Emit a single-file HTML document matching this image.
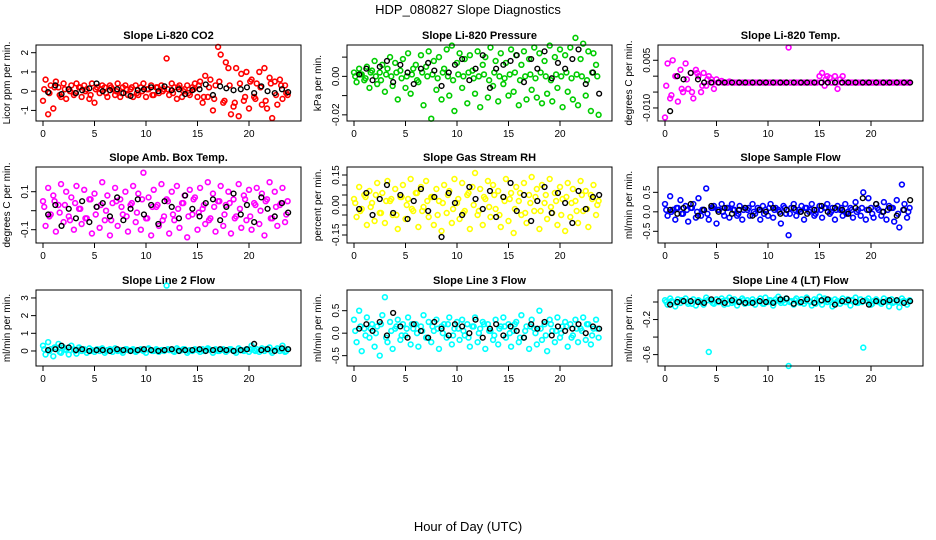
<!DOCTYPE html>
<html><head><meta charset="utf-8"><style>
html,body{margin:0;padding:0;background:#fff;}
svg{display:block;font-family:"Liberation Sans",sans-serif;}
</style></head><body>
<svg id="chart" width="936" height="540" viewBox="0 0 936 540">
<text x="468" y="14" text-anchor="middle" font-size="13">HDP_080827  Slope Diagnostics</text>
<text x="468" y="531" text-anchor="middle" font-size="13">Hour of Day (UTC)</text>
</svg>
<script>
const hoursColor = [0,0.25,0.5,0.75,1,1.25,1.5,1.75,2,2.25,2.5,2.75,3,3.25,3.5,3.75,4,4.25,4.5,4.75,5,5.25,5.5,5.75,6,6.25,6.5,6.75,7,7.25,7.5,7.75,8,8.25,8.5,8.75,9,9.25,9.5,9.75,10,10.25,10.5,10.75,11,11.25,11.5,11.75,12,12.25,12.5,12.75,13,13.25,13.5,13.75,14,14.25,14.5,14.75,15,15.25,15.5,15.75,16,16.25,16.5,16.75,17,17.25,17.5,17.75,18,18.25,18.5,18.75,19,19.25,19.5,19.75,20,20.25,20.5,20.75,21,21.25,21.5,21.75,22,22.25,22.5,22.75,23,23.25,23.5,23.75];
const hoursCore = [0.12,0.62,1.12,1.62,2.12,2.62,3.12,3.62,4.12,4.62,5.12,5.62,6.12,6.62,7.12,7.62,8.12,8.62,9.12,9.62,10.12,10.62,11.12,11.62,12.12,12.62,13.12,13.62,14.12,14.62,15.12,15.62,16.12,16.62,17.12,17.62,18.12,18.62,19.12,19.62,20.12,20.62,21.12,21.62,22.12,22.62,23.12,23.62];
const hoursBlack = [0.5,1.2,1.8,2.5,3.2,3.8,4.5,5.2,5.8,6.5,7.2,7.8,8.5,9.2,9.8,10.5,11.2,11.8,12.5,13.2,13.8,14.5,15.2,15.8,16.5,17.2,17.8,18.5,19.2,19.8,20.5,21.2,21.8,22.5,23.2,23.8];
const panelTitles = ["Slope Li-820 CO2","Slope Li-820 Pressure","Slope Li-820 Temp.","Slope Amb. Box Temp.","Slope Gas Stream RH","Slope Sample Flow","Slope Line 2 Flow","Slope Line 3 Flow","Slope Line 4 (LT) Flow"];
const yTitles = ["Licor ppm per min.","kPa per min.","degrees C per min.","degrees C per min.","percent per min.","ml/min per min.","ml/min per min.","ml/min per min.","ml/min per min."];
const yRanges = [[-1.55,2.4],[-0.0232,0.0163],[-0.0141,0.0098],[-0.17,0.23],[-0.19,0.19],[-0.8,1.15],[-0.85,3.45],[-0.73,0.96],[-0.73,0.137]];
const yTicks = [[-1,0,1,2],[-0.02,-0.01,0,0.01],[-0.01,-0.005,0,0.005],[-0.1,0,0.1],[-0.15,-0.1,-0.05,0,0.05,0.1,0.15],[-0.5,0,0.5],[0,1,2,3],[-0.5,0,0.5],[-0.6,-0.4,-0.2,0]];
const yTickLabels = [["-1","0","1","2"],["-0.02","","0.00",""],["-0.010","","","0.005"],["-0.1","","0.1"],["-0.15","","","0.00","","","0.15"],["-0.5","0.0","0.5"],["0","1","2","3"],["-0.5","0.0","0.5"],["-0.6","","-0.2",""]];
const xTicks = [0,5,10,15,20];
const seriesColors = ["#ff0000","#00cd00","#ff00ff","#ff00ff","#ffff00","#0000ff","#00ffff","#00ffff","#00ffff"];
const colorCO2 = [-0.5,0.6,-1.2,0.3,-0.9,0.5,0.2,-0.3,0.4,-0.4,0.1,0.3,-0.2,0.4,0.2,-0.3,0.3,0.1,-0.4,0.4,-0.6,0.2,-0.1,0.3,0.2,-0.3,0.3,0.1,-0.2,0.4,-0.3,0.2,0.3,-0.2,0.1,-0.3,0.3,-0.2,0.2,0.4,-0.3,0.1,0.3,-0.2,0.2,-0.1,0.3,0.1,1.7,-0.2,0.4,0.2,-0.4,0.3,-0.3,0.1,0.3,-0.2,0.2,0.4,-0.3,0.5,-0.6,0.8,-0.3,0.6,-1.0,0.3,2.3,1.9,-0.6,1.5,1.2,-1.2,-0.8,1.2,-1.3,0.9,-0.5,1.0,-0.9,0.6,-0.3,0.4,1.0,-0.7,1.2,-0.9,0.7,-1.4,0.5,-0.7,0.6,-0.4,0.3,-0.2];
const coreCO2 = [0.1,-0.1,0.2,-0.2,0.1,0,-0.1,0.2,0,-0.2,0.1,0.1,-0.1,0.2,0,-0.1,0.1,0.2,-0.1,0,0.1,-0.2,0.2,0,0.1,-0.1,0.2,0,-0.1,0.1,0.3,-0.3,0.2,-0.4,0.5,-0.5,0.3,-0.6,0.4,-0.3,0.5,-0.4,0.2,-0.5,0.4,-0.2,0.3,-0.1];
const blackCO2 = [-0.05,0.3,-0.15,0.1,-0.1,0.05,0.15,0.4,0,0.05,0.1,-0.1,-0.25,0.05,0.1,0.2,0,0.25,0.05,0.1,-0.15,0.05,0.1,0.35,-0.2,0.25,0.15,0.05,0.1,0.2,-0.1,0.25,0,-0.1,0.1,-0.05];
const colorPress = [0.002,-0.003,0.004,0.001,-0.002,0.005,-0.006,0.003,0.008,-0.004,0.002,0.006,-0.008,0.004,0.01,-0.005,0.007,-0.012,0.003,0.009,-0.006,0.012,-0.009,0.004,0.006,-0.003,0.011,-0.015,0.005,0.013,-0.022,0.008,-0.007,0.01,-0.012,0.004,0.014,-0.01,0.016,-0.018,0.007,0.012,-0.006,0.009,-0.014,0.011,0.003,-0.009,0.013,-0.016,0.006,0.01,-0.011,0.015,-0.005,0.008,-0.013,0.012,-0.004,0.007,-0.01,0.014,-0.008,0.011,-0.015,0.006,0.013,-0.012,0.009,-0.007,0.015,-0.011,0.012,-0.014,0.008,-0.009,0.016,-0.013,0.01,-0.006,0.014,-0.016,0.011,-0.008,0.015,-0.012,0.02,-0.015,0.009,0.017,-0.01,0.013,-0.018,0.012,0.006,-0.02];
const corePress = [0,0.001,-0.001,0.002,0,-0.002,0.001,0,0.002,-0.001,0,0.001,-0.002,0.002,0,0.001,-0.001,0.002,0,-0.002,0.001,0,0.002,-0.001,0,0.001,-0.002,0.002,0,-0.001,0.001,0.002,-0.002,0,0.001,-0.001,0.002,0,-0.002,0.001,0,0.002,-0.001,0.001,0,-0.002,0.002,0];
const blackPress = [0.001,0.004,-0.002,0.005,0.008,-0.003,0.006,0.002,-0.004,0.004,0.007,0.003,-0.005,0.002,0.006,0.009,-0.002,0.004,0.011,-0.006,0.004,0.006,0.008,0.011,-0.003,0.009,0.004,0.013,-0.001,0.007,0.004,0.009,0.014,-0.004,0.002,-0.009];
const colorTemp = [-0.013,0.004,-0.007,0.005,0,-0.008,0.002,-0.005,0.004,-0.004,0.001,-0.007,0.002,0,-0.005,0.001,-0.003,0,-0.001,-0.004,-0.001,-0.002,-0.0015,-0.002,-0.002,-0.0017,-0.002,-0.002,-0.002,-0.002,-0.002,-0.002,-0.002,-0.002,-0.002,-0.002,-0.002,-0.002,-0.002,-0.002,-0.002,-0.002,-0.002,-0.002,-0.002,-0.002,-0.002,-0.002,0.009,-0.002,-0.002,-0.002,-0.002,-0.002,-0.002,-0.002,-0.002,-0.002,-0.002,-0.002,0,0.001,-0.003,0,-0.0005,-0.002,0,-0.004,-0.001,0,-0.002,-0.002,-0.002,-0.002,-0.002,-0.002,-0.002,-0.002,-0.002,-0.002,-0.002,-0.002,-0.002,-0.002,-0.002,-0.002,-0.002,-0.002,-0.002,-0.002,-0.002,-0.002,-0.002,-0.002,-0.002,-0.002];
const coreTemp = [-0.003,-0.006,0,-0.004,-0.001,-0.005,0.001,-0.003,-0.001,-0.002,-0.002,-0.002,-0.002,-0.002,-0.002,-0.002,-0.002,-0.002,-0.002,-0.002,-0.002,-0.002,-0.002,-0.002,-0.002,-0.002,-0.002,-0.002,-0.002,-0.002,-0.002,-0.001,-0.002,-0.002,-0.002,-0.002,-0.002,-0.002,-0.002,-0.002,-0.002,-0.002,-0.002,-0.002,-0.002,-0.002,-0.002,-0.002];
const blackTemp = [-0.011,0,-0.001,0.001,-0.001,-0.002,-0.002,-0.002,-0.002,-0.002,-0.002,-0.002,-0.002,-0.002,-0.002,-0.002,-0.002,-0.002,-0.002,-0.002,-0.002,-0.002,-0.002,-0.002,-0.002,-0.002,-0.002,-0.002,-0.002,-0.002,-0.002,-0.002,-0.002,-0.002,-0.002,-0.002];
const colorAmb = [0.05,-0.08,0.12,-0.02,0.08,-0.11,0.03,0.14,-0.06,0.1,-0.03,0.07,-0.1,0.13,0.01,-0.07,0.11,-0.04,0.06,-0.12,0.09,0.02,-0.09,0.15,-0.05,0.08,-0.13,0.04,0.12,-0.08,0.06,-0.02,0.1,-0.11,0.03,0.13,-0.06,0.09,-0.1,0.2,-0.04,0.07,-0.13,0.11,0.02,-0.08,0.14,-0.03,0.06,-0.12,0.1,-0.05,0.13,-0.09,0.04,0.08,-0.14,0.11,-0.02,0.07,-0.1,0.12,0.01,-0.07,0.15,-0.04,0.09,-0.11,0.05,0.13,-0.08,0.03,0.1,-0.12,0.06,-0.03,0.14,-0.09,0.08,-0.05,0.11,-0.1,0.04,0.12,-0.07,0.09,-0.13,0.06,0.15,-0.04,0.1,-0.08,0.03,0.12,-0.06,0.05];
const coreAmb = [0.02,-0.03,0.05,-0.01,0.03,-0.05,0.04,0.01,-0.04,0.06,-0.02,0.03,0,-0.05,0.05,0.02,-0.03,0.04,-0.01,0.06,-0.04,0.02,0.03,-0.05,0.05,-0.02,0.01,0.04,-0.03,0.06,-0.01,0.03,-0.05,0.02,0.05,-0.02,0.04,-0.04,0.01,0.06,-0.03,0.03,0,0.05,-0.04,0.02,0.04,-0.02];
const blackAmb = [-0.02,0.03,-0.08,0.01,-0.04,0.05,-0.06,0.02,0.04,-0.03,0.07,-0.05,0.01,0.06,-0.02,0.03,-0.07,0.05,0.02,-0.04,0.08,0.01,-0.03,0.04,0.06,-0.05,0.02,0.09,-0.02,0.03,-0.06,0.07,0.01,-0.03,0.04,-0.01];
const colorRH = [0.03,-0.06,0.09,-0.02,0.05,-0.1,0.07,0.01,-0.08,0.11,-0.04,0.06,-0.09,0.12,0.02,-0.05,0.08,-0.12,0.04,0.1,-0.07,0.03,0.13,-0.03,0.06,-0.11,0.09,-0.01,0.12,-0.06,0.04,-0.1,0.08,0.02,-0.13,0.1,-0.04,0.07,-0.09,0.13,0.01,-0.07,0.11,-0.03,0.05,-0.12,0.09,0.16,-0.05,0.08,-0.1,0.03,0.12,-0.06,0.1,-0.02,0.07,-0.11,0.04,0.13,-0.08,0.06,-0.14,0.09,0.02,-0.05,0.11,-0.09,0.05,0.14,-0.03,0.08,-0.12,0.1,0.01,-0.07,0.13,-0.04,0.06,-0.1,0.09,0.03,-0.13,0.11,-0.06,0.08,0.02,-0.09,0.12,-0.03,0.07,-0.11,0.05,0.1,-0.05,0.02];
const coreRH = [0.01,-0.03,0.04,-0.01,0.05,-0.04,0.02,0.03,-0.05,0.04,0,-0.02,0.06,-0.03,0.02,0.04,-0.05,0.01,0.05,-0.02,0.03,-0.04,0.06,0,-0.03,0.04,-0.01,0.05,-0.05,0.02,0.03,-0.02,0.06,-0.04,0.01,0.04,-0.03,0.05,-0.01,0.02,-0.05,0.04,0.01,-0.03,0.05,-0.02,0.03,0];
const blackRH = [-0.02,0.06,-0.05,0.03,0.1,-0.04,0.05,-0.07,0.02,0.08,-0.03,0.04,-0.16,0.06,0.01,-0.05,0.09,0.03,-0.02,0.07,-0.06,0.04,0.11,-0.03,0.05,-0.08,0.02,0.09,-0.04,0.06,0.01,-0.09,0.07,-0.02,0.04,0.05];
const colorSample = [0.2,-0.1,0.4,0.05,-0.2,0.1,0.3,-0.05,0.15,-0.25,0.1,0.2,-0.15,0.35,-0.1,0.05,0.6,-0.2,0.1,0.15,-0.3,0.05,0.2,-0.1,0.1,-0.15,0.2,0.05,-0.1,0.15,-0.2,0.1,0.05,-0.1,0.2,-0.05,0.1,-0.2,0.15,0.05,-0.1,0.2,-0.15,0.1,0.05,-0.3,0.15,-0.05,-0.6,0.1,0.2,-0.1,0.05,0.15,-0.2,0.1,0,0.2,-0.1,0.05,0.15,-0.15,0.1,0.2,-0.05,0.1,-0.2,0.15,0.05,-0.1,0.2,0,0.1,-0.15,0.25,0.05,-0.1,0.5,-0.2,0.35,0.1,-0.15,0.2,0.05,-0.1,0.25,-0.2,0.15,0.1,-0.25,0.3,-0.4,0.7,0.2,-0.15,0.1];
const coreSample = [0.05,0,0.1,-0.05,0.05,0.1,0,0.05,-0.05,0.1,0.05,0,0.1,0.05,-0.05,0.05,0.1,0,0.05,-0.05,0.1,0.05,0,0.1,-0.05,0.05,0,0.1,0.05,-0.05,0.05,0.1,0,0.05,0.1,-0.05,0.05,0,0.1,0.05,-0.05,0.1,0,0.05,0.1,-0.05,0.05,0];
const blackSample = [0.05,-0.05,0.1,0.2,-0.1,0.05,0.15,0,0.1,-0.05,0.05,0.1,-0.1,0.05,0,0.1,-0.05,0.05,0.1,0,-0.05,0.05,0.15,0,0.1,0.05,-0.05,0.1,0.35,0.05,0.2,0,0.1,-0.1,0.05,0.3];
const colorLine2 = [0.3,-0.2,0.5,0.1,-0.3,0.2,0.4,-0.1,0.2,0.05,-0.2,0.3,0.1,-0.15,0.2,0,0.1,-0.1,0.15,0.05,-0.05,0.1,0,0.15,-0.1,0.05,0.1,-0.05,0.15,0,0.05,-0.1,0.1,0.05,0,0.1,-0.05,0.05,0.1,0,-0.1,0.15,0.05,0,0.1,-0.05,0.05,0,3.7,0.05,0.1,-0.05,0.15,0,0.05,0.1,-0.1,0.05,0,0.1,0.05,-0.05,0.1,0,0.15,0.05,-0.1,0.1,0,0.05,0.1,-0.05,0.05,0.1,0,-0.1,0.15,0.05,0,0.1,-0.05,0.3,0.05,0.1,-0.05,0.15,0,0.1,0.2,-0.1,0.05,0.15,0,0.3,-0.05,0.1];
const coreLine2 = [0.1,0,0.2,-0.05,0.1,0.05,0,0.1,0.05,0,0.05,0.1,0,0.05,0.05,0,0.1,0.05,0,0.05,0.1,0,0.05,0.05,0.1,0,0.05,0.1,0,0.05,0.05,0,0.1,0.05,0,0.05,0.1,0,0.05,0.05,0.1,0,0.05,0.1,0,0.05,0.1,0];
const blackLine2 = [0.05,0.1,0.3,0.2,0.05,0.1,0,0.05,0.05,0,0.1,0.05,0,0.05,0.1,0.05,0,0.05,0.1,0,0.05,0.05,0.1,0,0.05,0.1,0.05,0,0.05,0.1,0.4,0.05,0.1,0,0.15,0.1];
const colorLine3 = [0.3,-0.2,0.5,-0.4,0.1,0.35,-0.1,0.2,-0.3,0.15,-0.5,0.4,0.8,-0.2,0.25,-0.35,0.1,0.3,-0.15,0.2,-0.05,0.35,-0.25,0.1,0.2,-0.3,0.15,0.4,-0.1,0.25,-0.2,0.05,0.3,-0.35,0.15,0.2,-0.1,0.35,-0.25,0.1,0.25,-0.15,0.3,-0.05,0.2,-0.3,0.15,0.35,-0.2,0.1,0.25,-0.35,0.2,0.05,-0.15,0.3,-0.25,0.15,0.35,-0.1,0.2,-0.3,0.05,0.25,-0.2,0.4,-0.1,0.15,-0.35,0.3,0.1,-0.25,0.5,-0.15,0.2,-0.4,0.3,0.05,-0.2,0.35,-0.1,0.15,0.25,-0.3,0.2,-0.05,0.3,-0.2,0.1,0.35,-0.15,0.2,-0.25,0.1,0.3,-0.1];
const coreLine3 = [0.05,0.15,-0.05,0.1,0,0.2,-0.1,0.05,0.15,-0.05,0.1,0.2,0,0.05,-0.1,0.15,0.1,0,0.2,-0.05,0.1,0.05,-0.1,0.15,0,0.2,0.05,-0.05,0.1,0.15,0,0.2,-0.1,0.05,0.15,0,0.1,-0.05,0.2,0.05,0,0.15,-0.1,0.1,0.05,0.2,-0.05,0.1];
const blackLine3 = [0.1,0.2,0.05,0.25,-0.05,0.45,0.15,-0.1,0.2,0.05,-0.1,0.25,0.1,-0.05,0.2,0.15,0,0.3,-0.1,0.1,0.2,-0.05,0.15,0.05,-0.1,0.2,0.1,0.25,-0.05,0.15,0.05,0.1,0.2,0,0.15,0.1];
const colorLine4 = [0.02,-0.03,0.04,0,-0.05,0.03,-0.01,0.02,0.04,-0.02,0.01,0.03,-0.04,0.02,0,-0.03,0.05,-0.57,0.01,-0.02,0.03,0,0.04,-0.03,0.02,0.05,-0.01,0.03,-0.04,0.01,0.04,-0.02,0.02,0,0.03,-0.03,0.01,0.04,-0.02,0.05,0,0.02,-0.04,0.03,0.06,-0.01,0.02,0.04,-0.73,0.01,-0.03,0.04,0,0.03,-0.02,0.05,0.01,-0.04,0.03,0.02,0.06,-0.03,0.04,0,0.02,-0.05,0.03,0.01,-0.02,0.04,0,0.03,-0.04,0.02,0.05,-0.01,0.03,-0.52,0.02,0.04,-0.03,0.01,0.03,0,-0.02,0.04,0.01,-0.05,0.03,0,0.02,-0.06,0.04,0.01,-0.03,0.02];
const coreLine4 = [0,0.01,-0.01,0.02,0,-0.02,0.01,0,0.02,-0.01,0,0.01,-0.02,0.01,0,0.02,-0.01,0,0.01,-0.02,0.02,0,0.01,-0.01,0,0.02,-0.01,0.01,0,-0.02,0.01,0.02,0,-0.01,0.01,0,0.02,-0.01,0,0.01,-0.02,0.01,0,0.02,-0.01,0,0.01,0];
const blackLine4 = [-0.03,0,0.01,0.01,0,-0.01,0.03,0.01,-0.01,0.02,0,-0.01,-0.01,0.01,0,-0.01,0.03,0.04,-0.02,0,0.03,-0.01,0.02,0.03,-0.03,0.01,0.02,0,0.01,-0.03,0.01,0,0.02,0.02,-0.01,0.01];
const colorSeries = [colorCO2,colorPress,colorTemp,colorAmb,colorRH,colorSample,colorLine2,colorLine3,colorLine4];
const coreSeries = [coreCO2,corePress,coreTemp,coreAmb,coreRH,coreSample,coreLine2,coreLine3,coreLine4];
const blackSeries = [blackCO2,blackPress,blackTemp,blackAmb,blackRH,blackSample,blackLine2,blackLine3,blackLine4];

const NS = "http://www.w3.org/2000/svg";
const svg = document.getElementById("chart");
function mk(tag, attrs, parent) {
  const e = document.createElementNS(NS, tag);
  for (const k in attrs) e.setAttribute(k, attrs[k]);
  parent.appendChild(e);
  return e;
}
const lefts = [36, 347, 658], tops = [45, 167, 290], W = 265, H = 76;
for (let p = 0; p < 9; p++) {
  const L = lefts[p % 3], T = tops[Math.floor(p / 3)];
  const g = mk("g", {}, svg);
  
  
  const x0 = L + 7, x1 = L + 213;
  const xs = h => x0 + (x1 - x0) * h / 20;
  const [ymin, ymax] = yRanges[p];
  const ys = v => T + H - (v - ymin) / (ymax - ymin) * H;
  const t = mk("text", {x: L + W / 2, y: T - 6, "text-anchor": "middle", "font-size": "11", "font-weight": "bold"}, g);
  t.textContent = panelTitles[p];
  
  
  const yt = mk("text", {transform: `translate(${L - 26},${T + H / 2}) rotate(-90)`, "text-anchor": "middle", "font-size": "10"}, g);
  yt.textContent = yTitles[p];
  
  
  const cg = mk("g", {fill: "none", stroke: seriesColors[p], "stroke-width": "1.6"}, g);
  
  
  colorSeries[p].forEach((v, i) => {
    const c = mk("circle", {cx: xs(hoursColor[i]), cy: ys(v), r: 2.4}, cg);
    
    
  });
  coreSeries[p].forEach((v, i) => {
    const c = mk("circle", {cx: xs(hoursCore[i]), cy: ys(v), r: 2.4}, cg);
    
    
  });
  const bg = mk("g", {fill: "none", stroke: "#000", "stroke-width": "1.4"}, g);
  
  
  blackSeries[p].forEach((v, i) => {
    const c = mk("circle", {cx: xs(hoursBlack[i]), cy: ys(v), r: 2.4}, bg);
    
    
  });
  const box = mk("rect", {x: L, y: T, width: W, height: H, fill: "none", stroke: "#000", "stroke-width": "1"}, g);
  
  
  xTicks.forEach(h => {
    mk("line", {x1: xs(h), x2: xs(h), y1: T + H, y2: T + H + 5, stroke: "#000"}, g);
    const lb = mk("text", {x: xs(h), y: T + H + 16, "text-anchor": "middle", "font-size": "10"}, g);
    lb.textContent = h;
    
    
  });
  yTicks[p].forEach((v, i) => {
    mk("line", {x1: L - 5, x2: L, y1: ys(v), y2: ys(v), stroke: "#000"}, g);
    const lb = mk("text", {transform: `translate(${L - 8},${ys(v)}) rotate(-90)`, "text-anchor": "middle", "font-size": "10"}, g);
    lb.textContent = yTickLabels[p][i];
    
    
  });
}
</script>
</body></html>
